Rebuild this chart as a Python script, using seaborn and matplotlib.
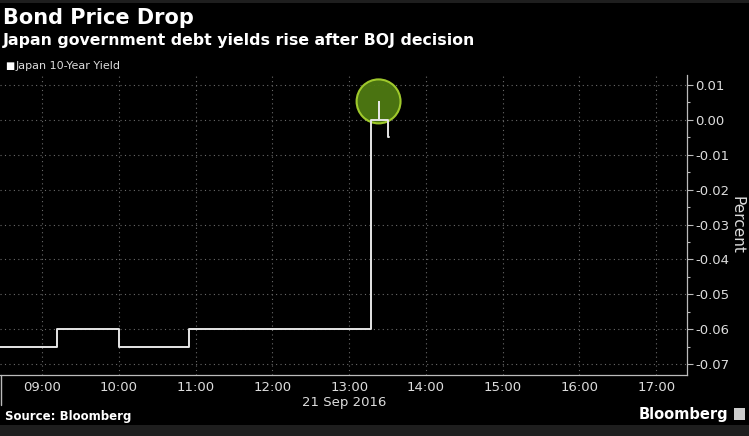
import matplotlib
matplotlib.use("Agg")
import matplotlib.pyplot as plt
import matplotlib.dates as mdates
from matplotlib.ticker import MultipleLocator, FuncFormatter
from matplotlib.patches import Ellipse, Rectangle
from matplotlib.lines import Line2D
import seaborn as sns
import pandas as pd

# ---- data ----
times = ["08:27", "09:12", "10:00", "10:55", "13:17", "13:23", "13:23.5", "13:30", "13:31"]
yield_values = [-0.065, -0.060, -0.065, -0.060, 0.000, 0.005, 0.000, -0.005, -0.005]
x_tick_labels = ["09:00", "10:00", "11:00", "12:00", "13:00", "14:00", "15:00", "16:00", "17:00"]
y_ticks = [0.01, 0.00, -0.01, -0.02, -0.03, -0.04, -0.05, -0.06, -0.07]


def to_dt(s):
    hm = s.split(":")
    h = int(hm[0]); m = float(hm[1])
    return pd.Timestamp("2016-09-21") + pd.Timedelta(hours=h, minutes=m)

df = pd.DataFrame({"time": [to_dt(t) for t in times], "yield": yield_values})

sns.set_theme(style="dark")
plt.rcParams["font.family"] = ["DejaVu Sans"]

fig = plt.figure(figsize=(7.49, 4.36), dpi=100, facecolor="black")
# top and bottom strips
fig.patches.append(Rectangle((0, 1 - 3 / 436), 1, 3 / 436, transform=fig.transFigure,
                             facecolor="#1e1e1e", edgecolor="none", zorder=0))
fig.patches.append(Rectangle((0, 0), 1, 11 / 436, transform=fig.transFigure,
                             facecolor="#1e1e1e", edgecolor="none", zorder=0))

ax = fig.add_axes([0.0, 1 - 375 / 436, 687 / 749, 300 / 436])
ax.set_facecolor("black")

sns.lineplot(data=df, x="time", y="yield", ax=ax, color="#e6e6e6", linewidth=1.4,
             drawstyle="steps-post", legend=False, zorder=3)

x0 = to_dt("08:27.2")
x1 = to_dt("17:24")
ax.set_xlim(x0, x1)
ax.set_ylim(-0.07315, 0.01287)

# y axis on right
ax.yaxis.tick_right()
ax.yaxis.set_label_position("right")
ax.set_yticks(y_ticks)
ax.yaxis.set_major_formatter(FuncFormatter(lambda v, p: f"{v:.2f}".replace("-0.00", "0.00")))
ax.yaxis.set_minor_locator(MultipleLocator(0.005))
ax.tick_params(axis="y", which="major", direction="out", length=4, width=0.8,
               colors="#bbbbbb", labelcolor="#dddddd", labelsize=9.5, pad=2)
ax.tick_params(axis="y", which="minor", direction="out", length=2, width=0.8, colors="#bbbbbb")

# x axis
ax.xaxis.set_major_locator(mdates.HourLocator(byhour=range(9, 18)))
ax.xaxis.set_major_formatter(mdates.DateFormatter("%H:%M"))
ax.xaxis.set_minor_locator(mdates.MinuteLocator(byminute=[30]))
ax.tick_params(axis="x", which="major", direction="in", length=0, colors="#bbbbbb",
               labelcolor="#dddddd", labelsize=9.5, pad=4)
ax.tick_params(axis="x", which="minor", direction="in", length=4, width=0.8, colors="#bbbbbb")
ax.set_xlabel("")
ax.set_ylabel("Percent", rotation=270, color="#dddddd", fontsize=11, labelpad=11)

ax.text(to_dt("12:56"), -0.0791, "21 Sep 2016", ha="center", va="top", color="#dddddd",
        fontsize=9.5, transform=ax.transData, clip_on=False)

# grid
ax.grid(True, which="major", axis="both", color="#6a6a6a", linestyle=(0, (1, 3)), linewidth=0.8)
ax.grid(False, which="minor")

for side in ["top", "left"]:
    ax.spines[side].set_visible(False)
for side in ["right", "bottom"]:
    ax.spines[side].set_visible(True)
    ax.spines[side].set_color("#bbbbbb")
    ax.spines[side].set_linewidth(0.9)

# small left border below the axis
fig.lines.append(Line2D([0.6 / 749, 0.6 / 749], [1 - 405 / 436, 1 - 375 / 436],
                        transform=fig.transFigure, color="#bbbbbb", linewidth=1.0))

# highlight circle
px_per_hour = 76.9
px_per_unit = 3487.5
r = 22
cx = to_dt("13:23")
ell = Ellipse((mdates.date2num(cx), 0.0053), width=2 * r / px_per_hour / 24,
              height=2 * r / px_per_unit, facecolor="#4f7a12", edgecolor="#a6d12e",
              linewidth=1.5, alpha=0.95, zorder=2)
ax.add_patch(ell)

# titles
fig.text(3 / 749, 1 - 18 / 436, "Bond Price Drop", color="white", fontsize=15,
         fontweight="bold", va="center", ha="left")
fig.text(3 / 749, 1 - 41 / 436, "Japan government debt yields rise after BOJ decision",
         color="white", fontsize=11.3, fontweight="bold", va="center", ha="left")
fig.text(5 / 749, 1 - 66 / 436, "\u25a0", color="white", fontsize=7, va="center", ha="left")
fig.text(16 / 749, 1 - 66 / 436, "Japan 10-Year Yield", color="#dddddd", fontsize=8,
         va="center", ha="left")
fig.text(5 / 749, 1 - 416 / 436, "Source: Bloomberg", color="white", fontsize=8.5,
         fontweight="bold", va="center", ha="left")
fig.text(728 / 749, 1 - 414 / 436, "Bloomberg", color="white", fontsize=10.5,
         fontweight="bold", va="center", ha="right")
fig.patches.append(Rectangle((734 / 749, 1 - 420 / 436), 11 / 749, 12 / 436,
                             transform=fig.transFigure, facecolor="#cccccc",
                             edgecolor="none", zorder=3))

fig.savefig("out.png", dpi=100, facecolor="black")
